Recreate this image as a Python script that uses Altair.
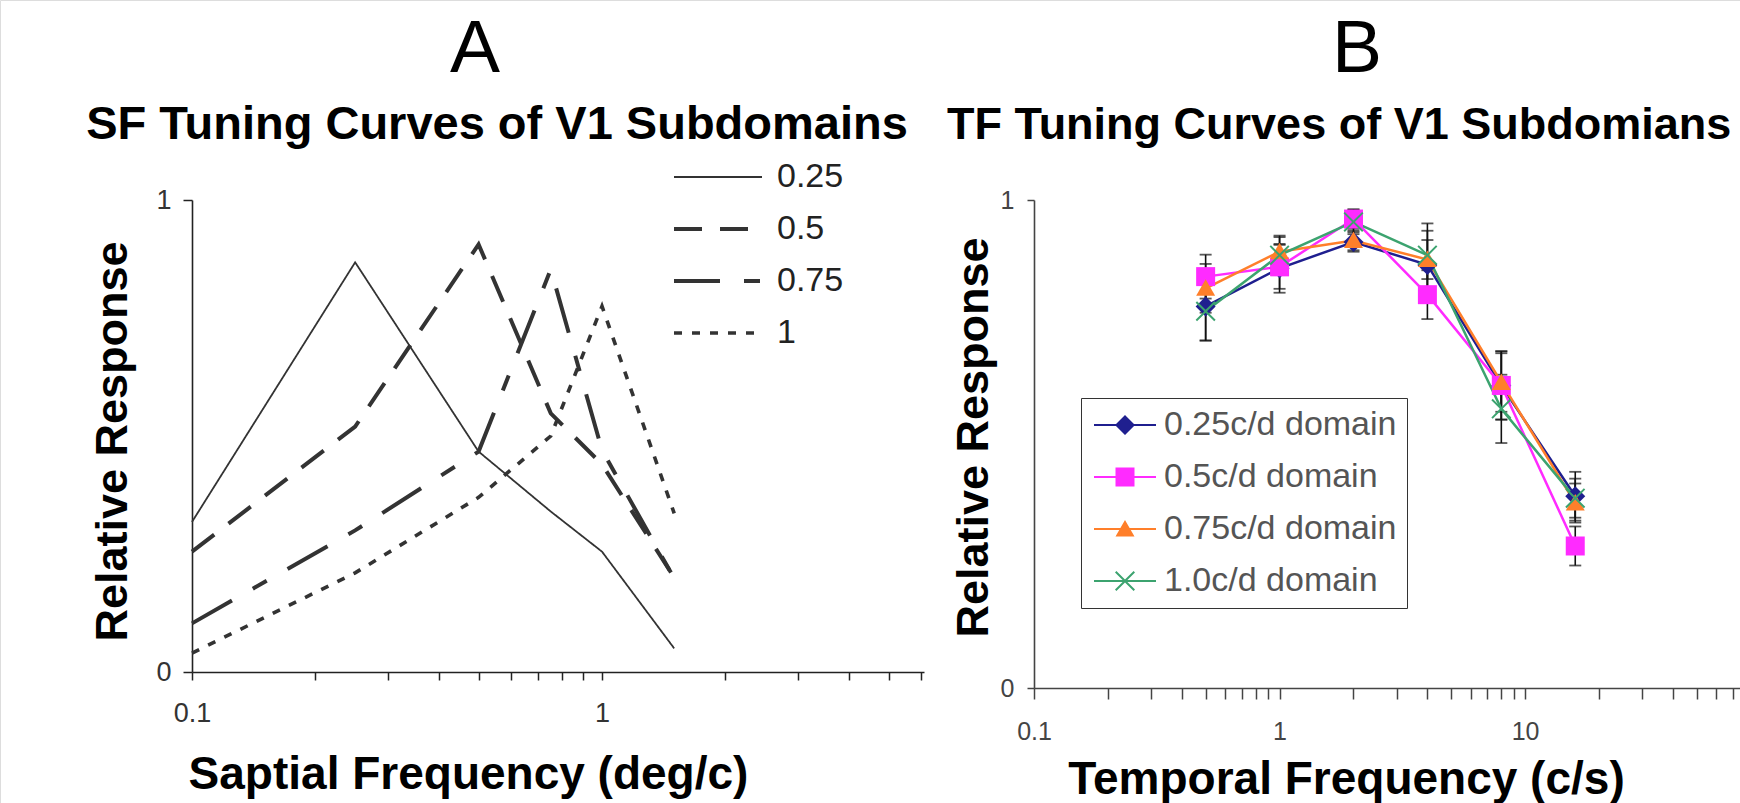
import json
import altair as alt
import pandas as pd

FONT = "Liberation Sans"

# ---------------- Panel A data (spatial frequency tuning) ----------------
SF_X = [0.1, 0.25, 0.5, 0.75, 1.0, 1.5]
SF_SERIES = ["0.25", "0.5", "0.75", "1"]
SF_025 = [0.318, 0.868, 0.467, 0.340, 0.255, 0.050]
SF_05 = [0.255, 0.520, 0.906, 0.548, 0.440, 0.200]
SF_075 = [0.103, 0.300, 0.467, 0.853, 0.470, 0.198]
SF_1 = [0.040, 0.210, 0.370, 0.500, 0.775, 0.336]
SF_TICKS = [0.1, 0.2, 0.3, 0.4, 0.5, 0.6, 0.7, 0.8, 0.9, 1, 2, 3, 4, 5, 6]
SF_LABELS = [0.1, 1]
Y_TICKS = [0, 1]

# ---------------- Panel B data (temporal frequency tuning) ----------------
TF_X = [0.5, 1, 2, 4, 8, 16]
TF_SERIES = ["0.25c/d domain", "0.5c/d domain", "0.75c/d domain", "1.0c/d domain"]
TF_025 = [0.782, 0.860, 0.914, 0.867, 0.620, 0.393]
TF_05 = [0.843, 0.863, 0.961, 0.806, 0.620, 0.291]
TF_075 = [0.819, 0.894, 0.917, 0.878, 0.626, 0.379]
TF_10 = [0.772, 0.887, 0.955, 0.887, 0.572, 0.389]
TF_ERR_025 = [0.070, 0.050, 0.020, 0.070, 0.070, 0.050]
TF_ERR_05 = [0.045, 0.045, 0.020, 0.050, 0.070, 0.040]
TF_ERR_075 = [0.050, 0.030, 0.020, 0.040, 0.060, 0.040]
TF_ERR_10 = [0.060, 0.040, 0.025, 0.065, 0.070, 0.040]
TF_TICKS = [0.1, 0.2, 0.3, 0.4, 0.5, 0.6, 0.7, 0.8, 0.9,
            1, 2, 3, 4, 5, 6, 7, 8, 9,
            10, 20, 30, 40, 50, 60, 70]
TF_LABELS = [0.1, 1, 10]

TITLES = ["A", "B"]
SUBTITLES = ["SF Tuning Curves of V1 Subdomains", "TF Tuning Curves of V1 Subdomians"]
X_TITLES = ["Saptial Frequency (deg/c)", "Temporal Frequency (c/s)"]
Y_TITLE = "Relative Response"

# ---------------- styles ----------------
SF_DASH = [[1, 0], [28, 18], [46, 24, 16, 24], [8, 10]]
SF_WIDTH = [1.8, 4, 4, 3.6]
TF_COLORS = ["#1f1f8f", "#ff2bff", "#ff7f2a", "#3ca36f"]
LINE_BAR = "M-3.1,-0.11L3.1,-0.11L3.1,0.11L-3.1,0.11Z"
TF_SHAPES = [
    "M0,-1L1,0L0,1L-1,0Z",
    "M-0.95,-0.95L0.95,-0.95L0.95,0.95L-0.95,0.95Z",
    "M0,-0.9L0.95,0.75L-0.95,0.75Z",
    "M-1,-0.86L-0.86,-1L0,-0.14L0.86,-1L1,-0.86L0.14,0L1,0.86L0.86,1L0,0.14L-0.86,1L-1,0.86L-0.14,0Z",
]
TF_LEGEND_SHAPES = [LINE_BAR + s for s in TF_SHAPES]

# ---------------- tables ----------------
rows_a = []
for name, vals in zip(SF_SERIES, [SF_025, SF_05, SF_075, SF_1]):
    for x, v in zip(SF_X, vals):
        rows_a.append({"sf": x, "resp": v, "series": name})
dfA = pd.DataFrame(rows_a)

rows_b = []
for name, vals, errs in zip(TF_SERIES, [TF_025, TF_05, TF_075, TF_10],
                            [TF_ERR_025, TF_ERR_05, TF_ERR_075, TF_ERR_10]):
    for x, v, e in zip(TF_X, vals, errs):
        rows_b.append({"tf": x, "resp": v, "lo": v - e, "hi": v + e, "series": name})
dfB = pd.DataFrame(rows_b)


def label_expr(vals):
    return f"indexof({json.dumps(vals)}, datum.value) >= 0 ? datum.label : ''"


# ---------------- Panel A ----------------
axA_x = alt.Axis(orient="bottom", offset=-131, values=SF_TICKS, format="~g",
                 labelExpr=label_expr(SF_LABELS), labelOverlap=False, labelFlush=False,
                 tickSize=8, tickWidth=1.5, tickColor="#222", domainColor="#222",
                 domainWidth=1.6, labelFontSize=27, labelColor="#333", labelPadding=20,
                 title=X_TITLES[0], titleFontSize=46, titleFontWeight="bold",
                 titleColor="black", titleX=468, titleY=116, titleAlign="center",
                 titleBaseline="alphabetic", grid=False)
axA_y = alt.Axis(orient="left", offset=-192, values=Y_TICKS, format="d", tickSize=9,
                 tickWidth=1.5, tickColor="#222", domainColor="#222", domainWidth=1.6,
                 labelFontSize=27, labelColor="#333", labelPadding=12,
                 title=Y_TITLE, titleFontSize=45, titleFontWeight="bold", titleColor="black",
                 titleX=-80, titleY=441, titleAngle=270, titleAlign="center",
                 titleBaseline="middle", grid=False)

XA = alt.X("sf:Q", scale=alt.Scale(type="log", domain=[0.1, 6.1], range=[192, 924]), axis=axA_x)
YA = alt.Y("resp:Q", scale=alt.Scale(domain=[0, 1], range=[672, 200]), axis=axA_y)

legA = alt.Legend(orient="none", legendX=672, legendY=160, title=None, padding=0,
                  symbolType="stroke", symbolSize=7744, symbolStrokeWidth=3.5,
                  symbolStrokeColor="#333", labelFontSize=34, labelColor="#222",
                  labelFont=FONT, labelOffset=13, rowPadding=18, clipHeight=34)

panelA = alt.Chart(dfA).mark_line(color="#333", strokeCap="butt").encode(
    x=XA,
    y=YA,
    strokeDash=alt.StrokeDash("series:N", scale=alt.Scale(domain=SF_SERIES, range=SF_DASH),
                              legend=legA),
    strokeWidth=alt.StrokeWidth("series:N",
                                scale=alt.Scale(type="ordinal", domain=SF_SERIES, range=SF_WIDTH),
                                legend=None),
)

# ---------------- Panel B ----------------
axB_x = alt.Axis(orient="bottom", offset=-115, values=TF_TICKS, format="~g",
                 labelExpr=label_expr(TF_LABELS), labelOverlap=False, labelFlush=False,
                 tickSize=11, tickWidth=1.5, tickColor="#444", domainColor="#444",
                 domainWidth=1.6, labelFontSize=25, labelColor="#444", labelPadding=20,
                 title=X_TITLES[1], titleFontSize=46, titleFontWeight="bold",
                 titleColor="black", titleX=1346, titleY=105, titleAlign="center",
                 titleBaseline="alphabetic", grid=False)
axB_y = alt.Axis(orient="left", offset=-1034, values=Y_TICKS, format="d", tickSize=7,
                 tickWidth=1.5, tickColor="#444", domainColor="#444", domainWidth=1.6,
                 labelFontSize=25, labelColor="#444", labelPadding=13,
                 title=Y_TITLE, titleFontSize=45, titleFontWeight="bold", titleColor="black",
                 titleX=-61, titleY=437, titleAngle=270, titleAlign="center",
                 titleBaseline="middle", grid=False)

sxB = alt.Scale(type="log", domain=[0.1, 75], range=[1034, 1740])
syB = alt.Scale(domain=[0, 1], range=[688, 200])
XB = alt.X("tf:Q", scale=sxB, axis=axB_x)
YB = alt.Y("resp:Q", scale=syB, axis=axB_y)

err_rule = alt.Chart(dfB).mark_rule(color="#111", strokeWidth=1.6).encode(
    x=XB, y=alt.Y("lo:Q", scale=syB, axis=axB_y), y2="hi:Q")
cap_lo = alt.Chart(dfB).mark_tick(color="#111", orient="horizontal", size=12, thickness=1.8).encode(
    x=XB, y=alt.Y("lo:Q", scale=syB, axis=axB_y))
cap_hi = alt.Chart(dfB).mark_tick(color="#111", orient="horizontal", size=12, thickness=1.8).encode(
    x=XB, y=alt.Y("hi:Q", scale=syB, axis=axB_y))

line_layers = []
point_layers = []
for name, col, shp in zip(TF_SERIES, TF_COLORS, TF_SHAPES):
    base = alt.Chart(dfB).transform_filter(alt.datum.series == name)
    line_layers.append(base.mark_line(color=col, strokeWidth=2.5).encode(x=XB, y=YB))
    point_layers.append(base.mark_point(shape=shp, filled=True, size=400, color=col,
                                        opacity=1, strokeWidth=0).encode(x=XB, y=YB))

legB = alt.Legend(orient="none", legendX=1081, legendY=398, title=None, padding=10,
                  strokeColor="#333", fillColor="white", symbolSize=400, symbolOpacity=1,
                  symbolStrokeWidth=0, labelFontSize=34, labelColor="#555", labelFont=FONT,
                  labelLimit=500, rowPadding=18, symbolOffset=17, labelOffset=22,
                  clipHeight=34)

carrier = alt.Chart(dfB).mark_point(filled=True, opacity=0, size=400).encode(
    x=XB, y=YB,
    color=alt.Color("series:N", scale=alt.Scale(domain=TF_SERIES, range=TF_COLORS), legend=legB),
    shape=alt.Shape("series:N", scale=alt.Scale(domain=TF_SERIES, range=TF_LEGEND_SHAPES),
                    legend=legB),
)

panelB = alt.layer(err_rule, cap_lo, cap_hi, *line_layers, *point_layers, carrier)

# ---------------- Titles ----------------
def text_layer(txt, x, y, size, weight, align):
    return alt.Chart(pd.DataFrame({"t": [txt]})).mark_text(
        font=FONT, fontSize=size, fontWeight=weight, align=align, baseline="alphabetic",
        color="black").encode(text="t:N", x=alt.value(x), y=alt.value(y))

tA = text_layer(TITLES[0], 475, 72, 75, "normal", "center")
tB = text_layer(TITLES[1], 1357, 72, 75, "normal", "center")
sA = text_layer(SUBTITLES[0], 497, 139, 47, "bold", "center")
sB = text_layer(SUBTITLES[1], 947, 139, 45, "bold", "left")

chart = alt.layer(panelA, panelB, tA, tB, sA, sB).resolve_scale(
    x="independent", y="independent"
).properties(
    width=1740, height=803, autosize=alt.AutoSizeParams(type="none"), padding=0
).configure_view(strokeWidth=0).configure_axis(
    labelFont=FONT, titleFont=FONT
).configure(background="white")

chart.save("out.html", embed_options={"renderer": "svg", "actions": False})
